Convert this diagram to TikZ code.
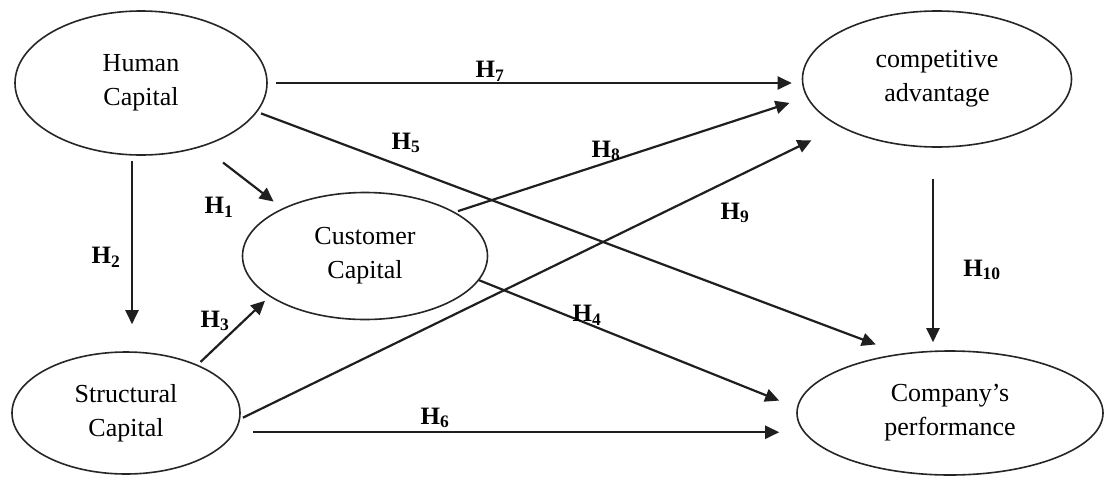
\documentclass[tikz,border=0pt]{standalone}
\usepackage{fontspec}
\setmainfont{Liberation Serif}
\usetikzlibrary{shapes.geometric,arrows.meta}
\begin{document}
\begin{tikzpicture}[x=1pt,y=-1pt,
  ell/.style={ellipse,draw=black!85,line width=1.6pt,inner sep=0pt,align=center,
    font=\fontsize{26}{34}\selectfont},
  conn/.style={line width=2.2pt,draw=black!88,-{Triangle[length=14pt,width=13pt]}},
  hlab/.style={font=\fontsize{25}{25}\selectfont\bfseries,inner sep=0pt}]
\useasboundingbox (0,0) rectangle (1105,477);
\fill[white] (0,0) rectangle (1105,477);

% nodes
\node[ell,minimum width=252pt,minimum height=144pt] (hc) at (141,83) {Human\\Capital};
\node[ell,minimum width=269pt,minimum height=136pt] (ca) at (937,79) {competitive\\advantage};
\node[ell,minimum width=245pt,minimum height=127pt] (cc) at (365,256) {Customer\\Capital};
\node[ell,minimum width=228pt,minimum height=122pt] (sc) at (126,413) {Structural\\Capital};
\node[ell,minimum width=306pt,minimum height=124pt] (cp) at (950,413) {Company's\\performance};

% connectors
\draw[conn,shorten <=8pt,shorten >=10pt] (hc.east) -- (hc.east -| ca.west);
\draw[conn,shorten <=5pt,shorten >=27pt] ([xshift=-9pt]hc.south) -- ([xshift=-9pt]hc.south |- sc.north);
\draw[conn,shorten <=26pt,shorten >=11pt] (hc.-46) -- (cc.150);
\draw[conn,shorten <=4pt,shorten >=6pt] (sc.34) -- (cc.203);
\draw[conn,shorten <=4pt,shorten >=26pt] (hc.-14) -- (cp.130);
\draw[conn,shorten <=3pt,shorten >=18pt] (cc.26) -- (ca.188);
\draw[conn,shorten <=3pt,shorten >=31pt] (sc.-3) -- (ca.206);
\draw[conn,shorten <=31pt,shorten >=8pt] ([xshift=-4pt]ca.south) -- ([xshift=-4pt]ca.south |- cp.north);
\draw[conn,shorten >=19pt] (cc.-12) -- (cp.178);
\draw[conn,shorten <=18pt,shorten >=17pt] (sc.-10) -- (sc.-10 -| cp.west);

% labels
\node[hlab] (l7) at (490,71) {H\textsubscript{7}};
\node[hlab] (l5) at (406,143) {H\textsubscript{5}};
\node[hlab] (l8) at (606,151) {H\textsubscript{8}};
\node[hlab] (l9) at (735,213) {H\textsubscript{9}};
\node[hlab] (l1) at (219,207) {H\textsubscript{1}};
\node[hlab] (l2) at (106,257) {H\textsubscript{2}};
\node[hlab] (l3) at (215,321) {H\textsubscript{3}};
\node[hlab] (l4) at (587,315) {H\textsubscript{4}};
\node[hlab] (l6) at (435,418) {H\textsubscript{6}};
\node[hlab] (l10) at (982,270) {H\textsubscript{10}};
\end{tikzpicture}
\end{document}
